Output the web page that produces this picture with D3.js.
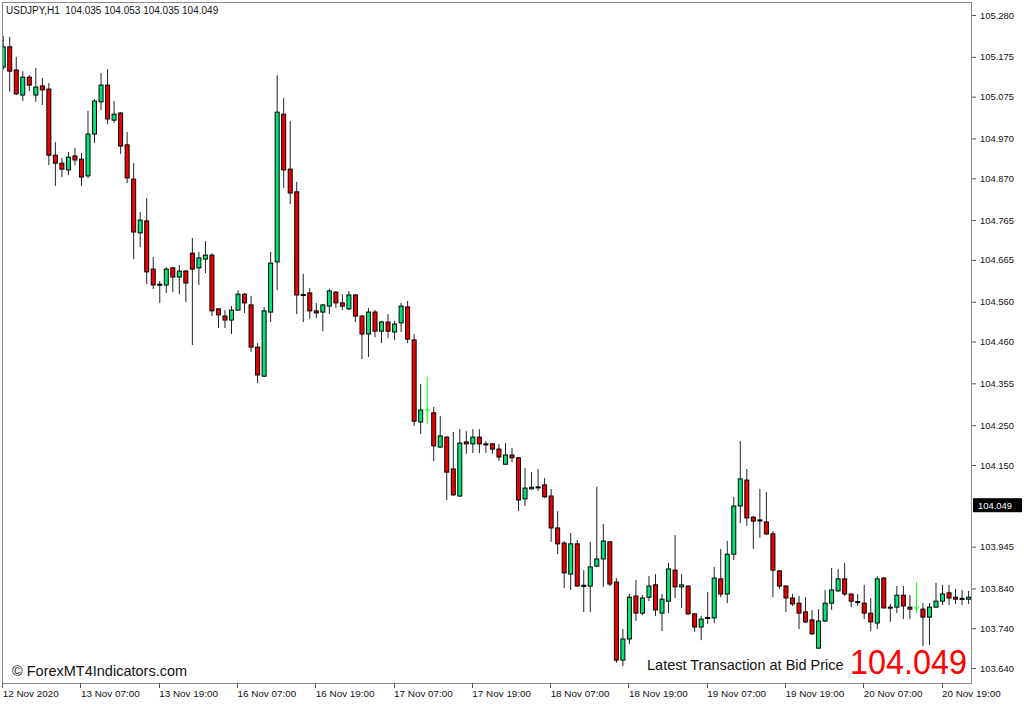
<!DOCTYPE html>
<html><head><meta charset="utf-8">
<script src="https://cdn.jsdelivr.net/npm/d3@7"></script>
<style>html,body{margin:0;padding:0;background:#fff;overflow:hidden}svg{display:block}</style>
</head><body>
<svg id="chart" width="1024" height="704"></svg>
<script>
// ---------- DATA ----------
const openP = [105.149,105.200,105.142,105.079,105.124,105.079,105.102,105.094,104.928,104.908,
104.891,104.926,104.918,104.876,104.981,105.062,105.104,105.016,105.034,104.954,
104.868,104.733,104.763,104.642,104.604,104.602,104.645,104.622,104.637,104.682,
104.645,104.667,104.677,104.542,104.524,104.514,104.539,104.579,104.552,104.446,
104.373,104.534,104.660,105.031,104.893,104.836,104.578,104.582,104.537,104.534,
104.549,104.584,104.557,104.542,104.577,104.524,104.479,104.534,104.486,104.509,
104.484,104.507,104.547,104.464,104.258,104.288,104.281,104.195,104.220,104.140,
104.072,104.208,104.203,104.220,104.203,104.203,104.190,104.152,104.175,104.168,
104.065,104.090,104.095,104.100,104.072,103.992,103.954,103.876,103.952,103.845,
103.846,103.896,103.914,103.957,103.856,103.660,103.713,103.821,103.778,103.818,
103.849,103.778,103.808,103.886,103.844,103.846,103.776,103.743,103.765,103.766,
103.864,103.826,103.926,104.047,104.112,104.019,104.012,104.007,103.977,103.884,
103.846,103.816,103.803,103.781,103.761,103.690,103.758,103.803,103.834,103.864,
103.826,103.807,103.803,103.778,103.753,103.866,103.793,103.793,103.823,103.793,
103.791,103.788,103.768,103.793,103.808,103.829,103.818,103.815,103.813];
const highP = [105.227,105.225,105.175,105.139,105.129,105.147,105.122,105.109,104.961,104.921,
104.936,104.946,104.933,105.039,105.069,105.134,105.144,105.064,105.036,104.986,
104.908,104.785,104.820,104.672,104.612,104.647,104.647,104.652,104.640,104.720,
104.685,104.712,104.682,104.544,104.539,104.549,104.589,104.582,104.574,104.456,
104.547,104.685,105.129,105.072,105.014,104.861,104.630,104.594,104.557,104.554,
104.592,104.587,104.579,104.587,104.579,104.527,104.544,104.539,104.512,104.529,
104.512,104.557,104.562,104.479,104.353,104.371,104.296,104.273,104.223,104.233,
104.240,104.235,104.240,104.240,104.210,104.205,104.203,104.205,104.193,104.170,
104.142,104.132,104.140,104.117,104.090,104.034,103.959,103.979,103.962,103.886,
103.957,104.095,104.002,103.959,103.866,103.738,103.826,103.861,103.823,103.871,
103.876,103.826,103.904,103.974,103.876,103.848,103.778,103.771,103.831,103.894,
103.939,103.959,104.070,104.210,104.140,104.022,104.090,104.082,103.984,103.886,
103.848,103.826,103.821,103.818,103.786,103.788,103.836,103.891,103.889,103.904,
103.827,103.826,103.849,103.816,103.871,103.869,103.801,103.846,103.846,103.823,
103.856,103.803,103.803,103.854,103.849,103.849,103.839,103.836,103.834];
const lowP = [105.142,105.087,105.079,105.064,105.089,105.062,105.054,104.903,104.851,104.873,
104.878,104.903,104.851,104.871,104.959,105.041,105.006,105.009,104.931,104.858,
104.667,104.697,104.604,104.592,104.557,104.582,104.584,104.579,104.559,104.451,
104.602,104.632,104.524,104.494,104.494,104.479,104.537,104.532,104.434,104.356,
104.371,104.509,104.589,104.846,104.805,104.529,104.509,104.517,104.519,104.486,
104.529,104.544,104.539,104.539,104.509,104.416,104.421,104.471,104.456,104.469,
104.464,104.484,104.456,104.248,104.228,104.253,104.160,104.193,104.062,104.072,
104.070,104.178,104.180,104.180,104.180,104.178,104.160,104.150,104.157,104.034,
104.047,104.088,104.085,104.067,103.957,103.926,103.841,103.836,103.844,103.781,
103.781,103.894,103.844,103.846,103.653,103.645,103.700,103.758,103.773,103.808,
103.771,103.733,103.778,103.816,103.791,103.773,103.731,103.710,103.751,103.753,
103.818,103.803,103.911,104.004,103.997,103.939,103.967,103.974,103.818,103.839,
103.781,103.796,103.738,103.753,103.723,103.688,103.756,103.786,103.831,103.821,
103.793,103.796,103.763,103.733,103.738,103.790,103.756,103.778,103.763,103.763,
103.778,103.695,103.698,103.792,103.798,103.798,103.801,103.798,103.801];
const closeP = [105.200,105.139,105.082,105.124,105.104,105.099,105.092,104.928,104.908,104.893,
104.923,104.916,104.873,104.981,105.064,105.104,105.019,105.031,104.951,104.871,
104.735,104.765,104.635,104.602,104.602,104.642,104.622,104.637,104.607,104.642,
104.670,104.677,104.537,104.527,104.514,104.539,104.579,104.557,104.446,104.376,
104.537,104.657,105.036,104.891,104.833,104.577,104.576,104.537,104.532,104.552,
104.587,104.557,104.549,104.577,104.524,104.479,104.534,104.486,104.509,104.486,
104.504,104.549,104.466,104.260,104.288,104.288,104.198,104.223,104.132,104.075,
104.205,104.203,104.220,104.203,104.202,104.190,104.170,104.175,104.168,104.062,
104.092,104.094,104.093,104.070,103.992,103.952,103.879,103.952,103.846,103.848,
103.894,103.914,103.959,103.851,103.660,103.713,103.818,103.778,103.816,103.846,
103.786,103.813,103.889,103.844,103.849,103.776,103.743,103.763,103.767,103.866,
103.826,103.926,104.047,104.115,104.017,104.009,104.011,103.977,103.886,103.846,
103.816,103.801,103.778,103.756,103.726,103.758,103.803,103.836,103.864,103.826,
103.808,103.806,103.778,103.756,103.864,103.791,103.792,103.823,103.796,103.788,
103.791,103.768,103.793,103.808,103.826,103.816,103.813,103.814,103.818];
const timeLabels = ["12 Nov 2020","13 Nov 07:00","13 Nov 19:00","16 Nov 07:00","16 Nov 19:00",
"17 Nov 07:00","17 Nov 19:00","18 Nov 07:00","18 Nov 19:00","19 Nov 07:00","19 Nov 19:00",
"20 Nov 07:00","20 Nov 19:00"];
const timeLabelBars = [0,12,24,36,48,60,72,84,96,108,120,132,144];
const priceTicks = [105.280,105.175,105.075,104.970,104.870,104.765,104.665,104.560,104.460,
104.355,104.250,104.150,103.945,103.840,103.740,103.640];
const bidPrice = 104.049;
const headerText = "USDJPY,H1\u00A0\u00A0104.035 104.053 104.035 104.049";
const watermark = "\u00A9 ForexMT4Indicators.com";
const bidCaption = "Latest Transaction at Bid Price";

// ---------- CHART ----------
const svg = d3.select("#chart");
const plot = {left:2, top:2, right:972, bottom:683};
const x = d3.scaleLinear().domain([0,148]).range([3.2,968.6]);
const y = d3.scaleLinear().domain([103.6025,105.3127]).range([plot.bottom,plot.top]);
const upColor = "#00e676", downColor = "#ee0000";
const font = "Liberation Sans, Arial, sans-serif";

svg.append("rect").attr("width",1024).attr("height",704).attr("fill","#fff");

const candles = openP.map((o,i)=>({i,o,h:highP[i],l:lowP[i],c:closeP[i]}));
svg.append("clipPath").attr("id","pc").append("rect")
  .attr("x",plot.left).attr("y",plot.top).attr("width",plot.right-plot.left).attr("height",plot.bottom-plot.top);
const g = svg.append("g").attr("clip-path","url(#pc)");

// wicks
g.selectAll("line.wick").data(candles).join("line").attr("class","wick")
  .attr("x1",d=>x(d.i)).attr("x2",d=>x(d.i))
  .attr("y1",d=>y(d.h)).attr("y2",d=>y(d.l))
  .attr("stroke",d=>d.o===d.c?"#00ff00":"#222").attr("stroke-width",1);
// bodies
g.selectAll("rect.body").data(candles.filter(d=>d.o!==d.c)).join("rect").attr("class","body")
  .attr("x",d=>x(d.i)-2).attr("width",4)
  .attr("y",d=>y(Math.max(d.o,d.c)))
  .attr("height",d=>Math.max(1,Math.abs(y(d.o)-y(d.c))))
  .attr("fill",d=>d.c>d.o?upColor:downColor)
  .attr("stroke","#000").attr("stroke-width",1);
// exact doji
g.selectAll("line.doji").data(candles.filter(d=>d.o===d.c)).join("line").attr("class","doji")
  .attr("x1",d=>x(d.i)-2.5).attr("x2",d=>x(d.i)+2.5)
  .attr("y1",d=>y(d.o)).attr("y2",d=>y(d.o)).attr("stroke","#00ff00").attr("stroke-width",1);

// frame
svg.append("rect").attr("x",plot.left+0.5).attr("y",plot.top+0.5)
  .attr("width",plot.right-plot.left-1).attr("height",plot.bottom-plot.top)
  .attr("fill","none").attr("stroke","#8c8c8c").attr("stroke-width",1);

// right price axis
const yAxis = d3.axisRight(y).tickValues(priceTicks).tickFormat(d3.format(".3f")).tickSize(4).tickPadding(4);
const ya = svg.append("g").attr("transform",`translate(${plot.right},0)`).call(yAxis);
ya.select(".domain").remove();
ya.selectAll("line").attr("stroke","#555");
ya.selectAll("text").attr("font-family",font).attr("font-size","9.4px").attr("fill","#111");

// bid label box
const by = y(bidPrice);
svg.append("rect").attr("x",plot.right+1).attr("y",by-7).attr("width",49).attr("height",14).attr("fill","#000");
svg.append("text").attr("x",plot.right+6).attr("y",by+3.5).text(d3.format(".3f")(bidPrice))
  .attr("font-family",font).attr("font-size","9.4px").attr("fill","#fff");

// bottom time axis
const xa = svg.append("g");
xa.selectAll("line").data(timeLabelBars).join("line")
  .attr("x1",d=>Math.round(x(d))-0.5).attr("x2",d=>Math.round(x(d))-0.5)
  .attr("y1",plot.bottom).attr("y2",plot.bottom+5).attr("stroke","#555");
xa.selectAll("text").data(timeLabelBars).join("text")
  .attr("x",d=>x(d)-0.5).attr("y",696.5)
  .text((d,k)=>timeLabels[k])
  .attr("font-family",font).attr("font-size","9.9px").attr("fill","#111");

// header
svg.append("text").attr("x",6).attr("y",14).text(headerText)
  .attr("font-family",font).attr("font-size","10px").attr("fill","#111");

// watermark & captions
svg.append("text").attr("x",12).attr("y",676).text(watermark)
  .attr("font-family",font).attr("font-size","14.5px").attr("fill","#111");
svg.append("text").attr("x",647).attr("y",670).text(bidCaption)
  .attr("font-family",font).attr("font-size","14.5px").attr("fill","#111");
svg.append("text").attr("x",850).attr("y",674).text(d3.format(".3f")(bidPrice))
  .attr("textLength",117).attr("lengthAdjust","spacingAndGlyphs")
  .attr("font-family",font).attr("font-size","35px").attr("fill","#ff0000");
</script>
</body></html>
